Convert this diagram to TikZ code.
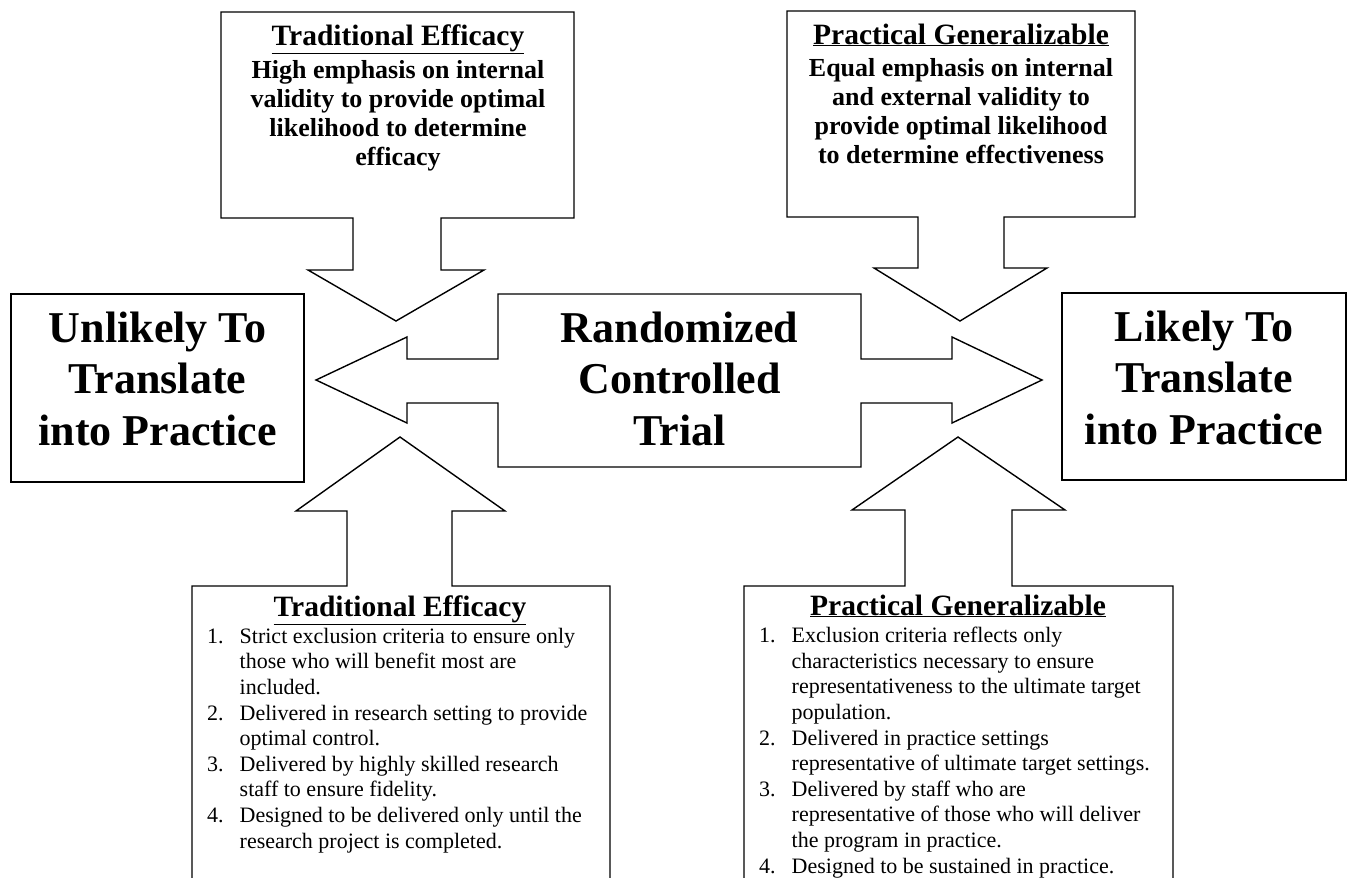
\documentclass[tikz,border=0pt]{standalone}
\usepackage{fontspec}
\setmainfont{Liberation Serif}
\begin{document}
\begin{tikzpicture}[x=1pt,y=-1pt,
  outline/.style={draw=black, line width=1.4pt, line join=miter},
  bigtext/.style={font=\bfseries\fontsize{44}{51.5}\selectfont, align=center, anchor=base, inner sep=0pt},
  headtext/.style={font=\bfseries\fontsize{29.5}{34}\selectfont, anchor=base, inner sep=0pt},
  bodytext/.style={font=\bfseries\fontsize{26}{29}\selectfont, align=center, anchor=base, inner sep=0pt},
  listtext/.style={font=\fontsize{22}{25.6}\selectfont, align=left, anchor=base west, inner sep=0pt},
]
\newcommand{\numitem}[1]{\makebox[32.5pt][l]{#1}}
\newcommand{\contline}{\hspace*{32.5pt}}
\useasboundingbox (0,0) rectangle (1347,878);
\clip (0,0) rectangle (1347,878);

% top-left callout (Traditional Efficacy)
\draw[outline] (221,12) -- (574,12) -- (574,218) -- (441,218) -- (441,270) -- (484,270)
  -- (396,321) -- (308,270) -- (353,270) -- (353,218) -- (221,218) -- cycle;
% top-right callout (Practical Generalizable)
\draw[outline] (787,11) -- (1135,11) -- (1135,217) -- (1004,217) -- (1004,268) -- (1047,268)
  -- (960,321) -- (874,268) -- (918,268) -- (918,217) -- (787,217) -- cycle;
% center double arrow callout
\draw[outline] (498,294) -- (861,294) -- (861,359) -- (952,359) -- (952,337) -- (1042,380)
  -- (952,423) -- (952,403) -- (861,403) -- (861,467) -- (498,467) -- (498,403)
  -- (407,403) -- (407,423) -- (316,380) -- (407,337) -- (407,359) -- (498,359) -- cycle;
% side boxes
\draw[outline] (11,294) rectangle (304,482);
\draw[outline] (1062,293) rectangle (1346,480);
% lower-left callout
\draw[outline] (192,900) -- (192,586) -- (347,586) -- (347,511) -- (296,511) -- (400,437)
  -- (505,511) -- (452,511) -- (452,586) -- (610,586) -- (610,900);
% lower-right callout
\draw[outline] (744,900) -- (744,586) -- (905,586) -- (905,510) -- (852,510) -- (958,437)
  -- (1065,510) -- (1012,510) -- (1012,586) -- (1173,586) -- (1173,900);

% texts (anchor=base is the baseline of the last line)
\node[bigtext] (unlikely) at (157.5,445) {Unlikely To\\Translate\\into Practice};
\node[bigtext] (rct) at (679.5,445) {Randomized\\Controlled\\Trial};
\node[bigtext] (likely) at (1204,444) {Likely To\\Translate\\into Practice};

\node[headtext] (tetoph) at (398,45) {\underline{Traditional Efficacy}};
\node[bodytext] (tetopb) at (398,165) {High emphasis on internal\\validity to provide optimal\\likelihood to determine\\efficacy};

\node[headtext] (pgtoph) at (961,44) {\underline{Practical Generalizable}};
\node[bodytext] (pgtopb) at (961,163) {Equal emphasis on internal\\and external validity to\\provide optimal likelihood\\to determine effectiveness};

\node[headtext] (tebotth) at (400,616) {\underline{Traditional Efficacy}};
\node[listtext] (tebotl) at (207,848) {%
\numitem{1.}Strict exclusion criteria to ensure only\\
\contline those who will benefit most are\\
\contline included.\\
\numitem{2.}Delivered in research setting to provide\\
\contline optimal control.\\
\numitem{3.}Delivered by highly skilled research\\
\contline staff to ensure fidelity.\\
\numitem{4.}Designed to be delivered only until the\\
\contline research project is completed.};

\node[headtext] (pgboth) at (958,615) {\underline{Practical Generalizable}};
\node[listtext] (pgbotl) at (759,873) {%
\numitem{1.}Exclusion criteria reflects only\\
\contline characteristics necessary to ensure\\
\contline representativeness to the ultimate target\\
\contline population.\\
\numitem{2.}Delivered in practice settings\\
\contline representative of ultimate target settings.\\
\numitem{3.}Delivered by staff who are\\
\contline representative of those who will deliver\\
\contline the program in practice.\\
\numitem{4.}Designed to be sustained in practice.};
\end{tikzpicture}
\end{document}
